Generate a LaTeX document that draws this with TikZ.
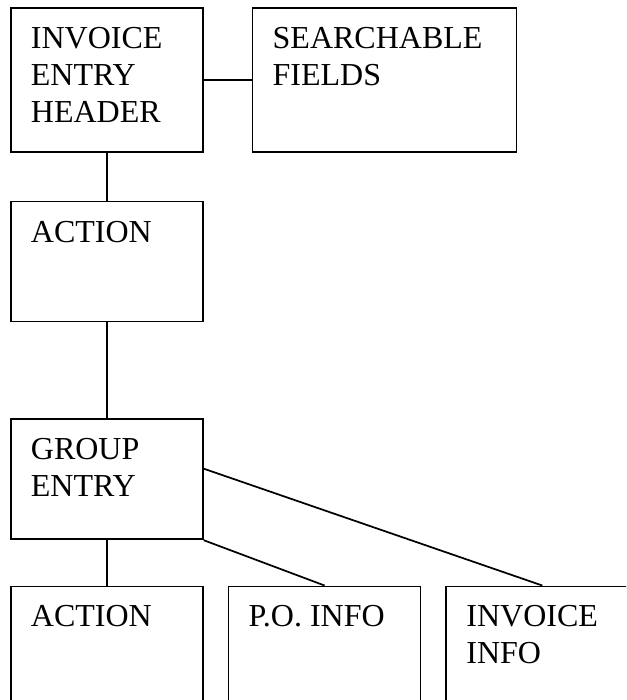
\documentclass[tikz,border=0pt]{standalone}
\usepackage{fontspec}
\setmainfont{Liberation Serif}
\usetikzlibrary{positioning}
\tikzset{
  card/.style={draw, line width=1.3pt, minimum width=144pt, minimum height=90pt, inner sep=0pt},
  cardtext/.style={anchor=north west, align=left, inner sep=0pt, xshift=15.5pt, yshift=-15pt,
    font=\fontsize{24}{27.75}\selectfont},
  link/.style={line width=1.3pt}
}
\begin{document}
\begin{tikzpicture}[x=0.75pt, y=-0.75pt]
  \useasboundingbox (0,0) rectangle (626,700);
  \clip (0,0) rectangle (626,700);
  % top row
  \node[card, minimum height=108pt, anchor=north west,
        label={[cardtext]north west:INVOICE\\ENTRY\\HEADER}] (hdr) at (10,7) {};
  \node[card, minimum width=198pt, minimum height=108pt, right=36pt of hdr,
        label={[cardtext]north west:SEARCHABLE\\FIELDS}] (fields) {};
  % middle
  \node[card, below=36pt of hdr, label={[cardtext]north west:ACTION}] (act1) {};
  \node[card, below=72pt of act1, label={[cardtext]north west:GROUP\\ENTRY}] (grp) {};
  % bottom row
  \node[card, below=34pt of grp, label={[cardtext]north west:ACTION}] (act2) {};
  \node[card, right=18pt of act2, label={[cardtext]north west:P.O. INFO}] (po) {};
  \node[card, right=18pt of po, label={[cardtext]north west:INVOICE\\INFO}] (inv) {};

  \draw[link] (hdr.east) -- (fields.west);
  \draw[link] (hdr.south) -- (act1.north);
  \draw[link] (act1.south) -- (grp.north);
  \draw[link] (grp.south) -- (act2.north);
  \draw[link] (grp.south east) -- (po.north);
  \draw[link] ([yshift=8pt]grp.east) -- (inv.north);
\end{tikzpicture}
\end{document}
